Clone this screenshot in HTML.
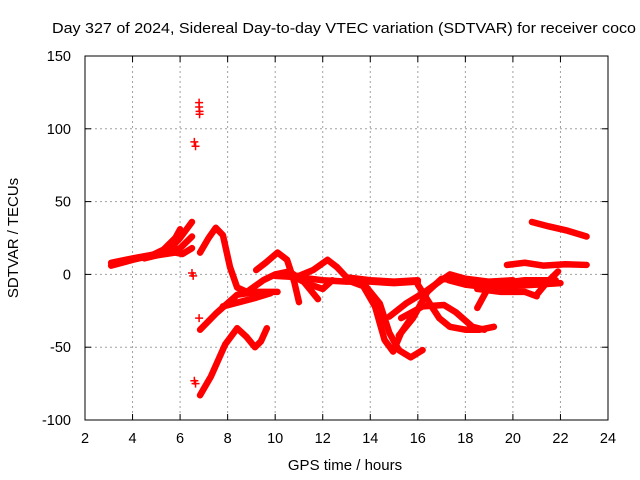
<!DOCTYPE html>
<html><head><meta charset="utf-8"><style>
body{margin:0;background:#fff}
svg{display:block;font-family:"Liberation Sans",sans-serif}
</style></head><body>
<svg id="chart" width="640" height="480" viewBox="0 0 640 480" xmlns="http://www.w3.org/2000/svg">
<rect width="640" height="480" fill="#fff"/>
<g id="grid"></g>
<g id="series"></g>
<rect x="85" y="56" width="523" height="364" fill="none" stroke="#000" stroke-width="1"/>
<g id="ticks"></g>
<text x="52" y="33" font-size="15" textLength="584" lengthAdjust="spacingAndGlyphs">Day 327 of 2024, Sidereal Day-to-day VTEC variation (SDTVAR) for receiver coco</text>
<text x="345" y="470" text-anchor="middle" font-size="15">GPS time / hours</text>
<text transform="translate(18,238) rotate(-90)" text-anchor="middle" font-size="15">SDTVAR / TECUs</text>
</svg>
<script>
const xTicks=[2,4,6,8,10,12,14,16,18,20,22,24];
const yTicks=[-100,-50,0,50,100,150];
const sA=[[3.1,6],[4,10],[4.8,13],[5.3,17],[5.8,25],[6.0,31]];
const sB=[[3.1,8],[4,11],[5,14],[5.6,18],[6.0,25],[6.5,36]];
const sC=[[4.5,11],[5.5,15],[6.0,18],[6.5,26]];
const sD=[[5.0,13],[5.8,15],[6.1,14],[6.5,18]];
const sE=[[6.84,15],[7.2,25],[7.5,32],[7.8,27],[8.1,5],[8.4,-9],[8.8,-12]];
const sF=[[6.84,-38],[7.5,-27],[8.4,-14],[9.2,-12],[10.1,-12]];
const sF2=[[7.8,-22],[8.5,-19],[9.2,-16],[9.8,-13]];
const sG=[[6.84,-83],[7.3,-70],[7.9,-48],[8.4,-37],[8.8,-43],[9.15,-50],[9.4,-46],[9.65,-37]];
const sH=[[9.2,3],[9.6,8],[10.1,15],[10.5,10],[10.8,-5],[11.0,-19]];
const sI=[[8.9,-11],[9.5,-4],[10.0,0],[10.6,2],[11.2,-5],[11.8,-17]];
const sJ=[[10.3,-1],[11.0,-1],[11.6,3],[12.2,10],[12.6,5],[13.0,-2],[14,-4],[15,-5],[16,-4]];
const sK=[[10,-1],[11,-2],[12,-4],[13,-5],[14,-5],[15,-6],[16,-5]];
const sL=[[10.5,1],[11.3,-6],[12,-10],[12.4,-4]];
const sM=[[13.2,-5],[13.7,-8],[14.2,-22],[14.6,-45],[14.96,-53],[15.3,-40],[15.8,-28],[16.1,-22]];
const sN=[[13.8,-8],[14.4,-20],[14.8,-40],[15.2,-52],[15.7,-57],[16.2,-52]];
const sO=[[14.8,-29],[15.5,-20],[16.3,-12],[16.9,-5],[17.35,0],[18,-3],[19,-5],[20,-4]];
const sP=[[16,-7],[16.5,-20],[16.9,-30],[17.35,-36],[18,-38],[18.6,-38],[19.2,-36]];
const sQ=[[15.3,-30],[16.2,-22],[17.1,-21],[17.6,-26],[18.3,-36],[18.8,-38]];
const sR=[[15.2,-42],[15.8,-30],[16.4,-12],[17.0,-3],[17.6,-4],[18.5,-7],[19.5,-6],[20.5,-4],[21.8,-4]];
const sS=[[17.3,-4],[18,-7],[19,-9],[20,-8],[21,-7],[22,-6]];
const sT=[[18.5,-10],[19.5,-12],[20.5,-12],[21,-15]];
const sU=[[18.5,-23],[18.8,-14],[19.0,-8]];
const sV=[[19.75,6.5],[20.5,8],[21.3,6],[22.2,7],[23.1,6.5]];
const sW=[[20.8,36],[21.5,33],[22.3,30],[23.1,26]];
const sX=[[21.0,-14],[21.4,-6],[21.9,2]];
const dots=[[6.8,118],[6.8,115],[6.82,112],[6.82,110],[6.6,91],[6.65,88],[6.5,1],[6.55,-1],[6.8,-30],[6.6,-73],[6.65,-75]];
const seriesList=[sA,sB,sC,sD,sE,sF,sF2,sG,sH,sI,sJ,sK,sL,sM,sN,sO,sP,sQ,sR,sS,sT,sU,sV,sW,sX];
const X=h=>85+(h-2)*523/22;
const Y=v=>420-(v+100)*364/250;
const NS="http://www.w3.org/2000/svg";
const grid=document.getElementById('grid'),ticks=document.getElementById('ticks'),ser=document.getElementById('series');
function mk(tag,attrs,parent){const e=document.createElementNS(NS,tag);for(const k in attrs)e.setAttribute(k,attrs[k]);parent.appendChild(e);return e;}
xTicks.forEach(t=>{const x=X(t);
 if(t>2&&t<24){const g=mk('line',{x1:x,x2:x,y1:56,y2:420,stroke:'#a0a0a0','stroke-dasharray':'2,3'},grid);
 
 }
 const a=mk('line',{x1:x,x2:x,y1:420,y2:414,stroke:'#000'},ticks);
 
 
 const b=mk('line',{x1:x,x2:x,y1:56,y2:62,stroke:'#000'},ticks);
 
 
 const l=mk('text',{x:x,y:443,'text-anchor':'middle','font-size':'14.5'},ticks);l.textContent=t;
 
 
});
yTicks.forEach(t=>{const y=Y(t);
 if(t>-100&&t<150){const g=mk('line',{x1:85,x2:608,y1:y,y2:y,stroke:'#a0a0a0','stroke-dasharray':'2,3'},grid);
 
 }
 const a=mk('line',{x1:85,x2:91,y1:y,y2:y,stroke:'#000'},ticks);
 
 
 const b=mk('line',{x1:602,x2:608,y1:y,y2:y,stroke:'#000'},ticks);
 
 
 const l=mk('text',{x:71,y:y+5,'text-anchor':'end','font-size':'14.5'},ticks);l.textContent=t;
 
 
});
seriesList.forEach(s=>{
 const p=mk('polyline',{points:s.map(d=>X(d[0])+','+Y(d[1])).join(' '),fill:'none',stroke:'#f00','stroke-width':'6.5','stroke-linejoin':'round','stroke-linecap':'round'},ser);
 
 
});
dots.forEach(d=>{
 const x=X(d[0]),y=Y(d[1]);
 const p=mk('path',{d:`M${x-4},${y}H${x+4}M${x},${y-4}V${y+4}`,stroke:'#f00','stroke-width':'1.5'},ser);
 
 
});
</script>
</body></html>
